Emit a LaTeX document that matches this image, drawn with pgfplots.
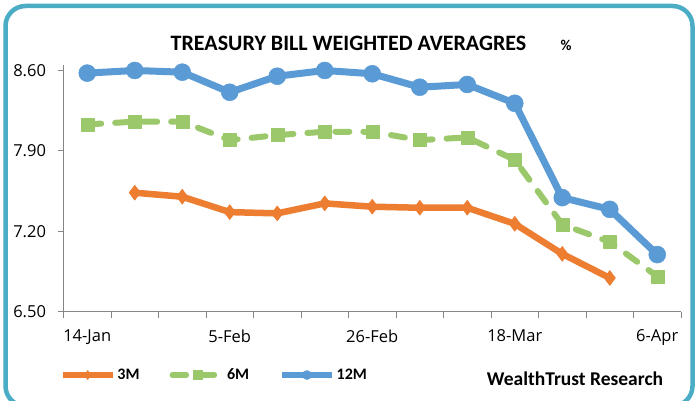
\documentclass[border=0pt]{standalone}
\usepackage{fontspec}
\setmainfont{Carlito}
\newfontfamily\tickfont{Open Sans}
\usepackage{pgfplots}
\pgfplotsset{compat=1.18}
\definecolor{c3m}{HTML}{ED7D31}
\definecolor{c6m}{HTML}{9BC86A}
\definecolor{c12m}{HTML}{5B9BD5}
\definecolor{framec}{HTML}{4BACC6}
\definecolor{axgray}{HTML}{868686}
\begin{document}
\begin{tikzpicture}
\useasboundingbox (0pt,0pt) rectangle (700pt,400pt);
\begin{scope}
\clip (0pt,0pt) rectangle (700pt,400pt);
\fill[white] (0pt,0pt) rectangle (700pt,400pt);
\draw[framec, line width=4.5pt, rounded corners=20pt] (5.5pt,-6pt) rectangle (692.5pt,394pt);
\end{scope}
\node[anchor=base, font=\bfseries\fontsize{22}{24}\selectfont] at (348.5pt,350pt) {TREASURY BILL WEIGHTED AVERAGRES};
\node[anchor=base, font=\bfseries\fontsize{15}{17}\selectfont] at (566pt,350pt) {\%};
\node[anchor=base, font=\bfseries\fontsize{19.5}{21}\selectfont] at (575pt,15pt) {WealthTrust Research};
\begin{axis}[
  at={(63.5pt,88.5pt)}, anchor=south west,
  scale only axis, width=617.5pt, height=246.2pt,
  xmin=-0.5, xmax=12.5, ymin=6.5, ymax=8.645,
  clip=false,
  axis lines*=left,
  axis line style={axgray, line width=0.9pt},
  tick style={axgray, line width=0.9pt},
  tick align=outside,
  major tick length=0pt,
  minor tick length=6pt,
  xtick={0,3,6,9,12},
  xticklabels={14-Jan,5-Feb,26-Feb,18-Mar,6-Apr},
  minor xtick={-0.5,0.5,...,12.5},
  ytick={6.5,7.2,7.9,8.6},
  minor ytick={6.5,7.2,7.9,8.6},
  yticklabel style={xshift=-14pt, /pgf/number format/.cd, fixed, fixed zerofill, precision=2, assume math mode=true},
  xticklabel style={yshift=-15pt},
  ticklabel style={font=\tickfont\fontsize{16.5}{18}\selectfont},
  legend style={at={(rel axis cs:-0.006,-0.258)}, anchor=west, draw=none, fill=none, inner sep=0pt,
    font=\bfseries\fontsize{16}{18}\selectfont,
    /tikz/every even column/.append style={column sep=28pt}},
  legend columns=3,
  legend cell align=left,
  legend image code/.code={
    \draw[mark repeat=2,mark phase=2,#1] plot coordinates {(0pt,0pt) (25pt,0pt) (50pt,0pt)};
  },
  legend image post style={mark size=4.5pt, line width=5.5pt},
  every axis plot/.append style={line join=round},
]
\addplot[c3m, line width=6.5pt, mark=diamond*, mark size=7.5pt, mark options={solid, line width=0.5pt}]
  coordinates {(1,7.535)(2,7.50)(3,7.366)(4,7.355)(5,7.442)(6,7.413)(7,7.404)(8,7.404)(9,7.264)(10,7.002)(11,6.792)};
\addlegendentry{3M}
\addplot[c6m, line width=6pt, line cap=round, dash pattern=on 14pt off 14pt, mark=square*, mark size=6.5pt, mark options={solid, line width=0.5pt}]
  coordinates {(0,8.13)(1,8.154)(2,8.154)(3,7.993)(4,8.037)(5,8.066)(6,8.066)(7,7.993)(8,8.017)(9,7.821)(10,7.258)(11,7.107)(12,6.806)};
\addlegendentry{6M}
\addplot[c12m, line width=7pt, mark=*, mark size=8.5pt, mark options={solid, line width=0.5pt}]
  coordinates {(0,8.577)(1,8.60)(2,8.585)(3,8.41)(4,8.55)(5,8.60)(6,8.571)(7,8.454)(8,8.478)(9,8.314)(10,7.492)(11,7.39)(12,6.996)};
\addlegendentry{12M}
\end{axis}
\end{tikzpicture}
\end{document}
